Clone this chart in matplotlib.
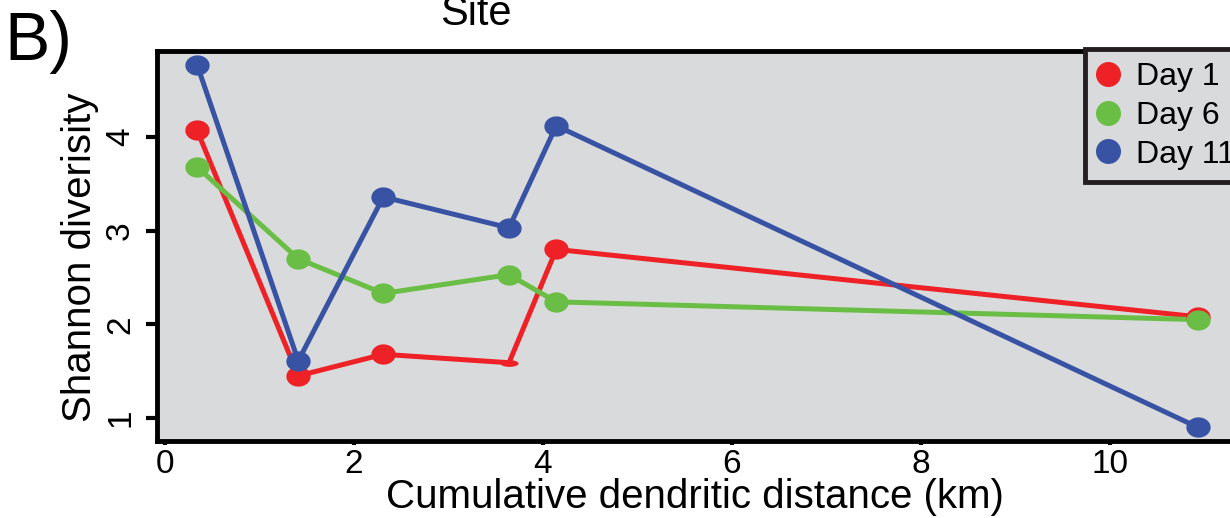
import matplotlib
matplotlib.use("Agg")
import matplotlib.pyplot as plt
import numpy as np
from matplotlib.path import Path
from matplotlib.lines import Line2D

plt.rcParams['font.family'] = ['Liberation Sans', 'DejaVu Sans']

distance = [0.34, 1.41, 2.31, 3.64, 4.14, 10.93]
day1 = [4.07, 1.45, 1.68, 1.59, 2.80, 2.08]
day6 = [3.68, 2.70, 2.33, 2.53, 2.24, 2.05]
day11 = [4.77, 1.61, 3.36, 3.03, 4.12, 0.90]
series_names = ["Day 1", "Day 6", "Day 11"]
colors = ["#EE2127", "#6BBE45", "#3953A4"]
xticks = [0, 2, 4, 6, 8, 10]
yticks = [1, 2, 3, 4]

W, H = 1230, 518
fig = plt.figure(figsize=(W/100, H/100), dpi=100)
fig.patch.set_facecolor('white')
ax = fig.add_axes([157/W, 1-441/H, (1240-157)/W, (441-51)/H])
ax.set_facecolor('#D9DADC')

theta = np.linspace(0, 2*np.pi, 60)
ell = Path(np.column_stack([1.2*np.cos(theta), np.sin(theta)]), closed=True)
flat = Path(np.column_stack([1.2*np.cos(theta), 0.45*np.sin(theta)]), closed=True)

data = [day1, day6, day11]
for vals, c in zip(data, colors):
    ax.plot(distance, vals, color=c, lw=3.6, solid_capstyle='round', zorder=2)
for vals, c, name in zip(data, colors, series_names):
    for i, (xv, yv) in enumerate(zip(distance, vals)):
        if name == "Day 1" and i == 3:
            ax.plot([xv], [yv], marker=flat, ms=13, color=c, mec='none', ls='none', zorder=3)
        else:
            ax.plot([xv], [yv], marker=ell, ms=17.5, color=c, mec='none', ls='none', zorder=3)

ax.set_xlim(-0.0847, 11.375)
ax.set_ylim(0.7545, 4.918)
ax.set_xticks(xticks)
ax.set_yticks(yticks)
ax.tick_params(axis='x', length=3, width=3, pad=3, labelsize=24)
ax.tick_params(axis='y', length=8, width=3, pad=7, labelsize=24, labelrotation=90)
for lab in ax.get_yticklabels():
    lab.set_va('center')
for s in ax.spines.values():
    s.set_linewidth(3.5)

fig.text(695/W, 1-497/H, "Cumulative dendritic distance (km)", ha='center', va='center', fontsize=29)
fig.text(80/W, 1-257/H, "Shannon diverisity", ha='center', va='center', rotation=90, fontsize=29)
fig.text(476/W, 1-14/H, "Site", ha='center', va='center', fontsize=30)
fig.text(38/W, 1-42/H, "B)", ha='center', va='center', fontsize=49)

handles = [Line2D([], [], marker='o', ls='none', color=c, mec='none', ms=18) for c in colors]
leg = ax.legend(handles, series_names, loc='upper left', bbox_to_anchor=(1085/W, 1-49/H),
                bbox_transform=fig.transFigure, fontsize=23, frameon=True, fancybox=False,
                facecolor='#D9DADC', edgecolor='#231F20', framealpha=1, borderpad=0.4,
                labelspacing=0.28, handletextpad=0.56, handlelength=0.64, borderaxespad=0)
leg.get_frame().set_linewidth(3.5)

fig.savefig("out.png", dpi=100)
